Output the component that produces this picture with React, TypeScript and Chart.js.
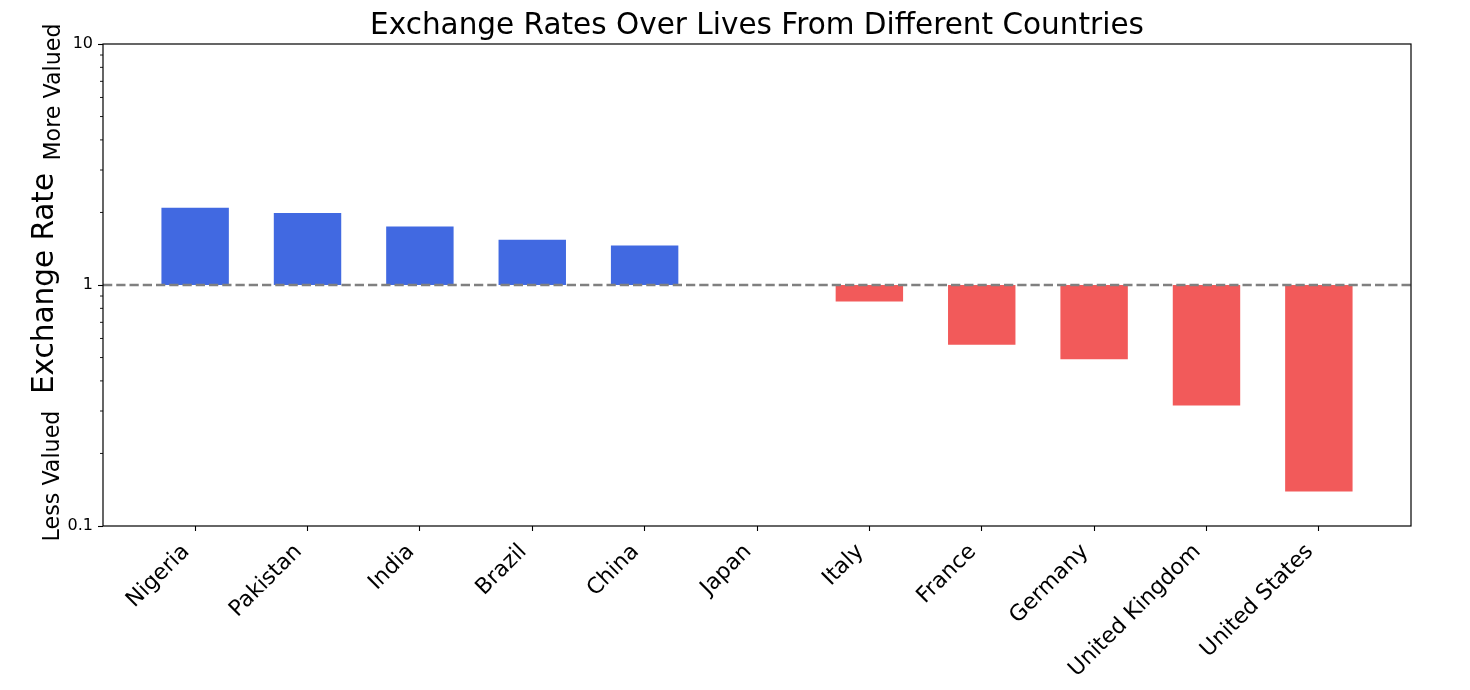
import { useEffect, useRef } from "react";
import { Chart, registerables } from "chart.js";

Chart.register(...registerables);

// ---- data ----
const countries = [
  "Nigeria",
  "Pakistan",
  "India",
  "Brazil",
  "China",
  "Japan",
  "Italy",
  "France",
  "Germany",
  "United Kingdom",
  "United States",
];
const exchangeRates = [2.09, 1.99, 1.75, 1.54, 1.46, 1.0, 0.854, 0.565, 0.492, 0.316, 0.139];
const baseline = 1;
const yTickValues = [0.1, 1, 10];
const yTickLabels = ["0.1", "1", "10"];
const minorMultipliers = [2, 3, 4, 5, 6, 7, 8, 9];
const minorDecades = [0.1, 1];
const titleText = "Exchange Rates Over Lives From Different Countries";
const yTitle = "Exchange Rate";
const upperLabel = "More Valued";
const lowerLabel = "Less Valued";

const BLUE = "#4169E1";
const RED = "#F25A5A";
const FONT = "'DejaVu Sans', 'Noto Sans', sans-serif";

const decorPlugin = {
  id: "decor",
  afterDatasetsDraw(chart: any) {
    const { ctx, chartArea: a, scales } = chart;
    const y = scales.y;
    ctx.save();
    // dashed baseline
    const yb = y.getPixelForValue(baseline);
    ctx.strokeStyle = "#808080";
    ctx.lineWidth = 2.5;
    ctx.setLineDash([9.25, 4]);
    ctx.beginPath();
    ctx.moveTo(a.left, yb);
    ctx.lineTo(a.right, yb);
    ctx.stroke();
    ctx.setLineDash([]);
    // frame
    ctx.strokeStyle = "#000";
    ctx.lineWidth = 1.2;
    ctx.strokeRect(a.left, a.top, a.right - a.left, a.bottom - a.top);
    // minor ticks
    ctx.lineWidth = 0.9;
    ctx.beginPath();
    for (const d of minorDecades) {
      for (const m of minorMultipliers) {
        const py = y.getPixelForValue(d * m);
        ctx.moveTo(a.left - 3, py);
        ctx.lineTo(a.left, py);
      }
    }
    ctx.stroke();
    // title
    ctx.fillStyle = "#000";
    ctx.font = `29.5px ${FONT}`;
    ctx.textAlign = "center";
    ctx.textBaseline = "alphabetic";
    ctx.fillText(titleText, (a.left + a.right) / 2, 34);
    // rotated side labels
    const drawRot = (text: string, x: number, yc: number, size: number) => {
      ctx.save();
      ctx.translate(x, yc);
      ctx.rotate(-Math.PI / 2);
      ctx.font = `${size}px ${FONT}`;
      ctx.textAlign = "center";
      ctx.textBaseline = "alphabetic";
      ctx.fillText(text, 0, 0);
      ctx.restore();
    };
    drawRot(upperLabel, 59.5, 92, 22.2);
    drawRot(yTitle, 53.3, 283.5, 29.5);
    drawRot(lowerLabel, 58.5, 476, 22.2);
    ctx.restore();
  },
};

export default function App() {
  const canvasRef = useRef<HTMLCanvasElement | null>(null);

  useEffect(() => {
    if (!canvasRef.current) return;
    Chart.defaults.font.family = FONT;
    const chart = new Chart(canvasRef.current, {
      type: "bar",
      data: {
        datasets: [
          {
            data: exchangeRates.map((v, i) => ({ x: i, y: [baseline, v] })) as any,
            backgroundColor: exchangeRates.map((v) => (v >= baseline ? BLUE : RED)),
            borderWidth: 0,
            barPercentage: 0.6,
            categoryPercentage: 1,
          },
        ],
      },
      options: {
        animation: false,
        responsive: true,
        maintainAspectRatio: false,
        layout: { padding: { top: 44, right: 59, left: 0, bottom: 0 } },
        plugins: {
          legend: { display: false },
          tooltip: { enabled: false },
          title: { display: false },
        },
        scales: {
          x: {
            type: "linear",
            min: -0.82,
            max: 10.82,
            offset: false,
            border: { display: false },
            grid: {
              display: true,
              offset: false,
              drawOnChartArea: false,
              drawTicks: true,
              tickLength: 5,
              tickColor: "#000",
              tickWidth: 1.1,
            },
            afterBuildTicks: (scale: any) => {
              scale.ticks = countries.map((_, i) => ({ value: i }));
            },
            afterFit: (scale: any) => {
              scale.height = 164;
            },
            ticks: {
              autoSkip: false,
              maxRotation: 45,
              minRotation: 45,
              padding: 8,
              labelOffset: -9,
              color: "#000",
              font: { size: 22, family: FONT },
              callback: (value: any) => countries[value as number] ?? "",
            },
          },
          y: {
            type: "logarithmic",
            min: 0.1,
            max: 10,
            border: { display: false },
            grid: {
              display: true,
              drawOnChartArea: false,
              drawTicks: true,
              tickLength: 5,
              tickColor: "#000",
              tickWidth: 1.1,
            },
            afterBuildTicks: (scale: any) => {
              scale.ticks = yTickValues.map((v) => ({ value: v }));
            },
            afterFit: (scale: any) => {
              scale.width = 103;
            },
            ticks: {
              autoSkip: false,
              padding: 5,
              color: "#000",
              font: { size: 16, family: FONT },
              callback: (value: any) => {
                const idx = yTickValues.findIndex((t) => Math.abs(t - Number(value)) < 1e-9);
                return idx >= 0 ? yTickLabels[idx] : "";
              },
            },
          },
        },
      },
      plugins: [decorPlugin],
    });
    return () => chart.destroy();
  }, []);

  return (
    <div style={{ position: "absolute", left: 0, top: 0, width: 1470, height: 690, background: "#fff" }}>
      <canvas ref={canvasRef} />
    </div>
  );
}
